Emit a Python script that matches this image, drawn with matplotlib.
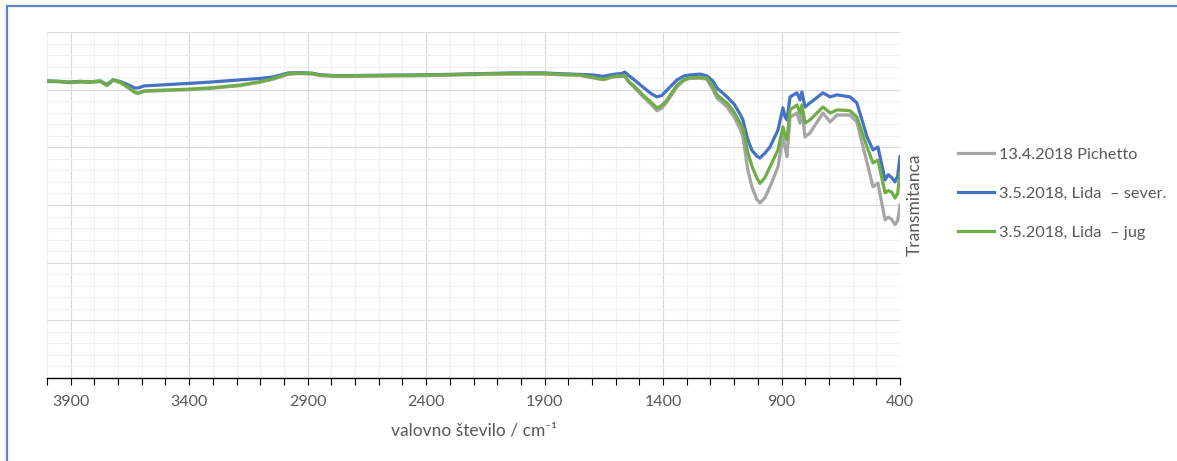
import matplotlib
matplotlib.use("Agg")
import matplotlib.pyplot as plt
from matplotlib.patches import Rectangle
from matplotlib.ticker import MultipleLocator

plt.rcParams['font.family'] = ['Lato', 'DejaVu Sans']

# wavenumber grid (cm-1)
wavenumber = [4000, 3950, 3903, 3860, 3819, 3775, 3747, 3721, 3690, 3660,
              3630, 3615, 3590, 3523, 3396, 3300, 3185, 3100, 3046, 2983,
              2932, 2880, 2850, 2793, 2700, 2600, 2455, 2300, 2150, 2033,
              1900, 1822, 1750, 1696, 1653, 1611, 1575, 1561, 1545, 1527,
              1485, 1450, 1426, 1405, 1383, 1341, 1310, 1286, 1244, 1215,
              1190, 1172, 1150, 1130, 1100, 1075, 1063, 1042, 1025, 1005,
              991, 970, 949, 915, 894, 885, 877, 864, 835, 822,
              814, 801, 780, 725, 695, 666, 611, 582, 539, 514,
              493, 463, 450, 435, 421, 410, 400]

pichetto = [102.8, 102.7, 102.4, 102.6, 102.5, 102.8, 101.4, 103.2, 102.4, 100.8,
            99.0, 98.6, 99.4, 99.6, 100.0, 100.5, 101.4, 102.6, 103.6, 105.3,
            105.6, 105.4, 104.9, 104.6, 104.6, 104.7, 104.8, 105.0, 105.3, 105.4,
            105.4, 105.1, 104.9, 104.1, 103.4, 104.4, 104.6, 104.6, 102.6, 101.2,
            97.6, 94.8, 92.7, 93.6, 95.8, 101.0, 103.3, 103.9, 104.0, 103.6,
            100.0, 97.0, 95.5, 94.0, 90.5, 86.5, 83.6, 72.1, 66.3, 62.0,
            60.7, 62.5, 66.3, 73.2, 83.6, 80.0, 76.8, 90.5, 91.9, 88.4,
            93.7, 83.6, 85.0, 91.9, 88.8, 91.2, 91.2, 88.8, 74.6, 66.3,
            67.6, 54.8, 55.8, 55.0, 53.2, 54.5, 60.0]

lida_sever = [103.0, 102.9, 102.6, 102.9, 102.7, 103.0, 101.8, 103.4, 102.8, 101.8,
              100.6, 100.6, 101.3, 101.6, 102.2, 102.7, 103.4, 103.9, 104.4, 105.8,
              105.9, 105.7, 105.2, 104.9, 104.9, 105.0, 105.1, 105.3, 105.6, 105.8,
              105.8, 105.5, 105.3, 105.1, 104.6, 105.3, 105.6, 106.1, 104.9, 103.8,
              100.9, 98.6, 97.5, 98.0, 99.9, 103.4, 104.8, 105.1, 105.4, 104.8,
              103.0, 100.5, 99.0, 97.5, 95.0, 91.5, 89.5, 82.6, 79.0, 77.0,
              76.3, 78.0, 80.1, 86.0, 93.7, 90.5, 89.5, 97.5, 98.9, 96.5,
              99.2, 94.0, 95.4, 98.9, 97.5, 98.2, 97.5, 95.4, 83.6, 79.1,
              80.1, 68.7, 70.5, 69.5, 68.0, 70.0, 76.7]

lida_jug = [103.0, 102.9, 102.6, 102.8, 102.7, 103.0, 101.6, 103.4, 102.6, 101.0,
            99.2, 98.8, 99.6, 99.8, 100.2, 100.7, 101.6, 102.8, 103.8, 105.5,
            105.8, 105.6, 105.1, 104.8, 104.8, 104.9, 105.0, 105.2, 105.5, 105.6,
            105.6, 105.3, 105.1, 104.3, 103.6, 104.6, 104.8, 104.8, 102.8, 101.6,
            98.2, 95.6, 93.7, 94.5, 96.5, 101.6, 103.6, 104.1, 104.2, 104.0,
            101.0, 98.2, 96.6, 95.4, 92.2, 88.5, 86.7, 78.0, 73.5, 69.5,
            67.5, 69.5, 73.2, 79.1, 87.1, 84.0, 82.6, 93.0, 94.7, 91.9,
            94.7, 88.4, 89.5, 94.0, 91.9, 93.0, 92.7, 90.5, 80.1, 74.6,
            75.6, 64.2, 65.0, 64.5, 62.4, 64.0, 71.1]

labels = ['13.4.2018 Pichetto', '3.5.2018, Lida  \u2013 sever.', '3.5.2018, Lida  \u2013 jug']
colors = ['#A5A5A5', '#4472C4', '#70AD47']

fig = plt.figure(figsize=(11.77, 4.61), dpi=100)
ax = fig.add_axes([47 / 1177, 83 / 461, 853 / 1177, 346 / 461])

for ys, lab, c in zip([pichetto, lida_sever, lida_jug], labels, colors):
    ax.plot(wavenumber, ys, color=c, lw=2.3, label=lab, solid_joinstyle='round')

ax.set_xlim(4000, 400)
ax.set_ylim(0, 120)
ax.set_xticks([3900, 3400, 2900, 2400, 1900, 1400, 900, 400])
ax.xaxis.set_minor_locator(MultipleLocator(100))
ax.yaxis.set_major_locator(MultipleLocator(20))
ax.yaxis.set_minor_locator(MultipleLocator(4))

ax.grid(which='minor', color='#F0F0F0', lw=0.8)
ax.grid(which='major', color='#D9D9D9', lw=0.8)
ax.set_axisbelow(True)

for s in ['top', 'left', 'right']:
    ax.spines[s].set_visible(False)
ax.spines['bottom'].set_color('#000000')
ax.spines['bottom'].set_linewidth(1.0)

ax.tick_params(axis='x', which='both', direction='out', length=5, width=0.8,
               color='#000000', labelcolor='#595959', labelsize=11.5, pad=7)
ax.tick_params(axis='y', which='both', length=0, labelleft=False)

ax.set_xlabel('valovno število / cm\u207b\u00b9', color='#595959', fontsize=12.5, labelpad=10)
ax.yaxis.set_label_position('right')
ax.set_ylabel('Transmitanca', color='#595959', fontsize=12.5, labelpad=5)

fig.legend(loc='center left', bbox_to_anchor=(958 / 1177, 0.580), frameon=False,
           fontsize=11.8, labelcolor='#595959', handlelength=2.2, handletextpad=0.3,
           labelspacing=1.5, borderpad=0, borderaxespad=0)

# blue frame round the chart, as in the screenshot
fig.patches.append(Rectangle((7 / 1177, -0.2), 1.2, 1 - 6 / 461 + 0.2,
                             transform=fig.transFigure, fill=False,
                             edgecolor='#5B87C5', lw=1.6, clip_on=False))

fig.savefig('out.png', dpi=100)
